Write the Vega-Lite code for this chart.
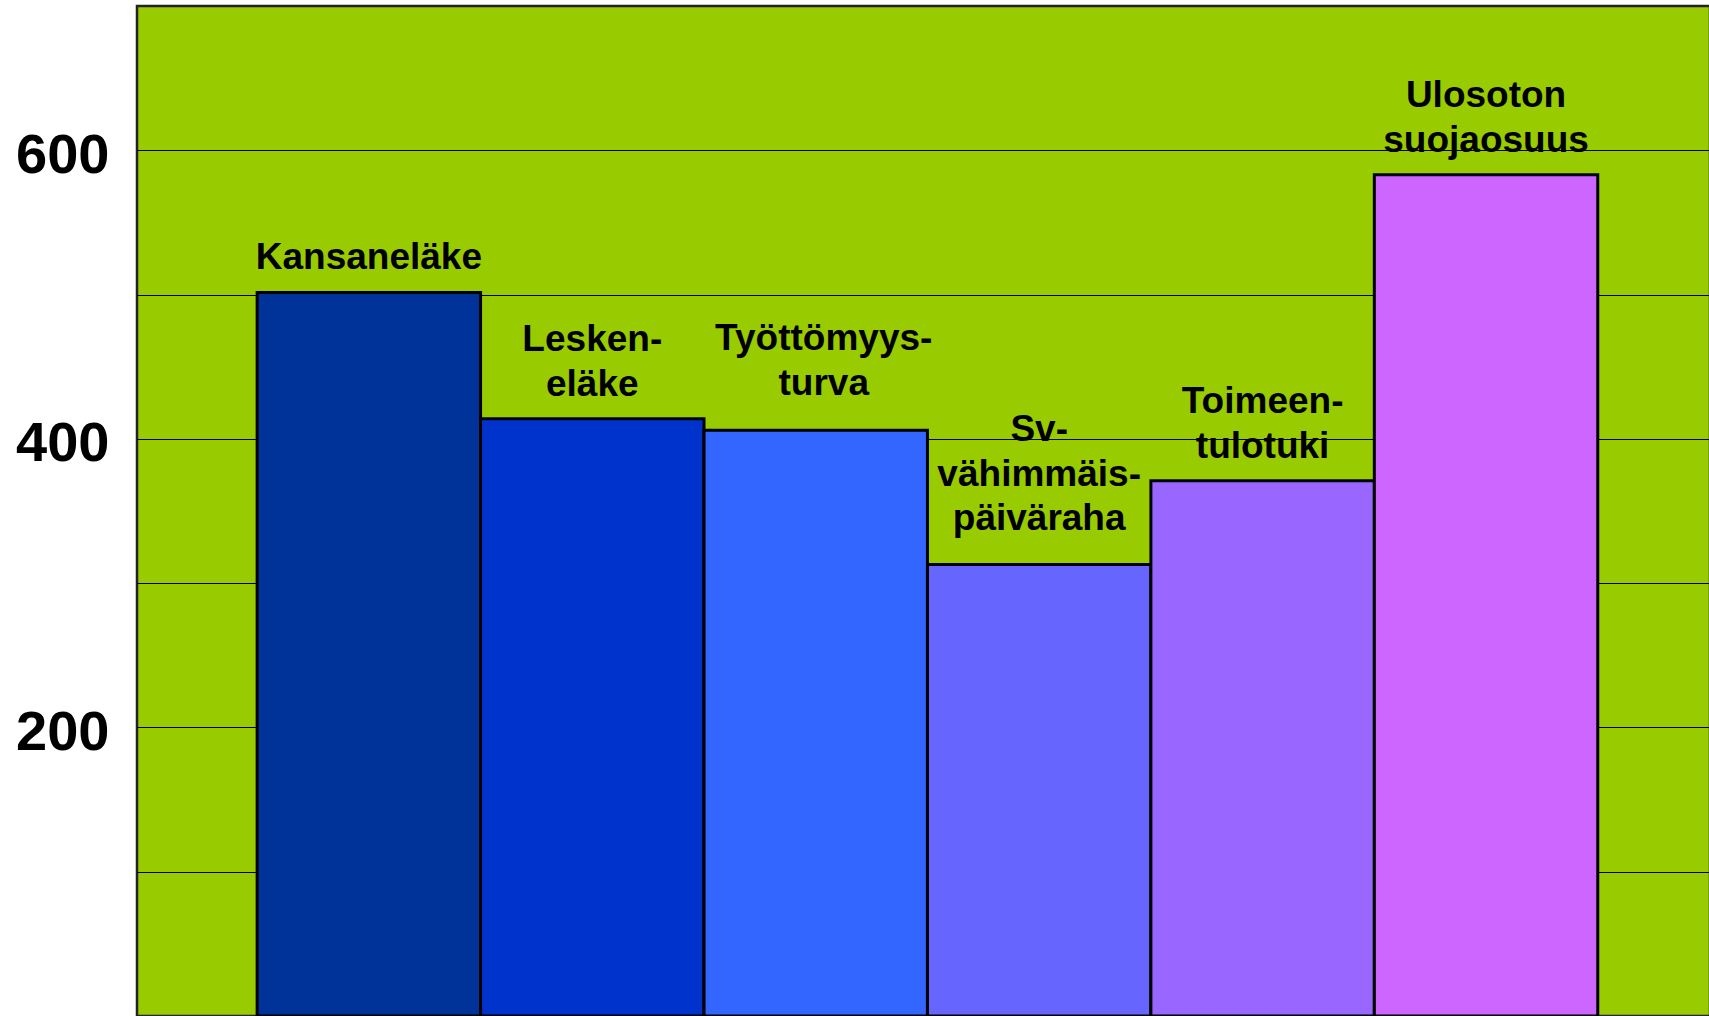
{
  "$schema": "https://vega.github.io/schema/vega-lite/v6.json",
  "autosize": {"type": "none"},
  "padding": {"left": 137, "top": 6, "right": 0, "bottom": 0},
  "width": 1573,
  "height": 1010,
  "background": "white",
  "config": {
    "view": {"fill": "#99CC00", "stroke": "#222222", "strokeWidth": 2.5},
    "font": "Liberation Sans",
    "text": {"font": "Liberation Sans", "fontSize": 37, "fontWeight": "bold", "color": "black", "align": "center", "baseline": "alphabetic"}
  },
  "data": {
    "values": [
      {"category": "Kansaneläke", "line1": "Kansaneläke", "value": 501.5},
      {"category": "Leskeneläke", "line1": "Lesken-", "line2": "eläke", "value": 414},
      {"category": "Työttömyysturva", "line1": "Työttömyys-", "line2": "turva", "value": 406},
      {"category": "Sv-vähimmäispäiväraha", "line1": "Sv-", "line2": "vähimmäis-", "line3": "päiväraha", "value": 313},
      {"category": "Toimeentulotuki", "line1": "Toimeen-", "line2": "tulotuki", "value": 371},
      {"category": "Ulosoton suojaosuus", "line1": "Ulosoton", "line2": "suojaosuus", "value": 583}
    ]
  },
  "encoding": {
    "x": {
      "field": "category",
      "type": "nominal",
      "sort": null,
      "axis": null,
      "scale": {"paddingInner": 0, "paddingOuter": 0.52, "align": 0.517}
    },
    "y": {
      "field": "value",
      "type": "quantitative",
      "scale": {"domain": [0, 700], "nice": false, "zero": true},
      "axis": {
        "title": null,
        "values": [100, 200, 300, 400, 500, 600],
        "labelExpr": "datum.value % 200 == 0 ? datum.label : ''",
        "grid": true,
        "gridColor": "black",
        "gridWidth": 1,
        "domain": false,
        "ticks": false,
        "labelPadding": 28,
        "labelOffset": 5,
        "labelFontSize": 56,
        "labelFontWeight": "bold",
        "labelFont": "Liberation Sans",
        "labelColor": "black"
      }
    }
  },
  "layer": [
    {
      "mark": {"type": "bar", "stroke": "black", "strokeWidth": 3},
      "encoding": {
        "color": {
          "field": "category",
          "type": "nominal",
          "legend": null,
          "scale": {
            "domain": ["Kansaneläke", "Leskeneläke", "Työttömyysturva", "Sv-vähimmäispäiväraha", "Toimeentulotuki", "Ulosoton suojaosuus"],
            "range": ["#003399", "#0033CC", "#3366FF", "#6666FF", "#9966FF", "#CC66FF"]
          }
        }
      }
    },
    {
      "transform": [{"filter": "!isValid(datum.line2)"}],
      "mark": {"type": "text", "dy": -23},
      "encoding": {"text": {"field": "line1", "type": "nominal"}}
    },
    {
      "transform": [{"filter": "isValid(datum.line2) && !isValid(datum.line3) && datum.category != 'Työttömyysturva'"}],
      "mark": {"type": "text", "dy": -23},
      "encoding": {"text": {"field": "line2", "type": "nominal"}}
    },
    {
      "transform": [{"filter": "isValid(datum.line2) && !isValid(datum.line3) && datum.category != 'Työttömyysturva'"}],
      "mark": {"type": "text", "dy": -68},
      "encoding": {"text": {"field": "line1", "type": "nominal"}}
    },
    {
      "transform": [{"filter": "datum.category == 'Työttömyysturva'"}],
      "mark": {"type": "text", "dy": -35, "dx": 8},
      "encoding": {"text": {"field": "line2", "type": "nominal"}}
    },
    {
      "transform": [{"filter": "datum.category == 'Työttömyysturva'"}],
      "mark": {"type": "text", "dy": -80, "dx": 8},
      "encoding": {"text": {"field": "line1", "type": "nominal"}}
    },
    {
      "transform": [{"filter": "isValid(datum.line3)"}],
      "mark": {"type": "text", "dy": -34},
      "encoding": {"text": {"field": "line3", "type": "nominal"}}
    },
    {
      "transform": [{"filter": "isValid(datum.line3)"}],
      "mark": {"type": "text", "dy": -78},
      "encoding": {"text": {"field": "line2", "type": "nominal"}}
    },
    {
      "transform": [{"filter": "isValid(datum.line3)"}],
      "mark": {"type": "text", "dy": -123},
      "encoding": {"text": {"field": "line1", "type": "nominal"}}
    }
  ]
}
